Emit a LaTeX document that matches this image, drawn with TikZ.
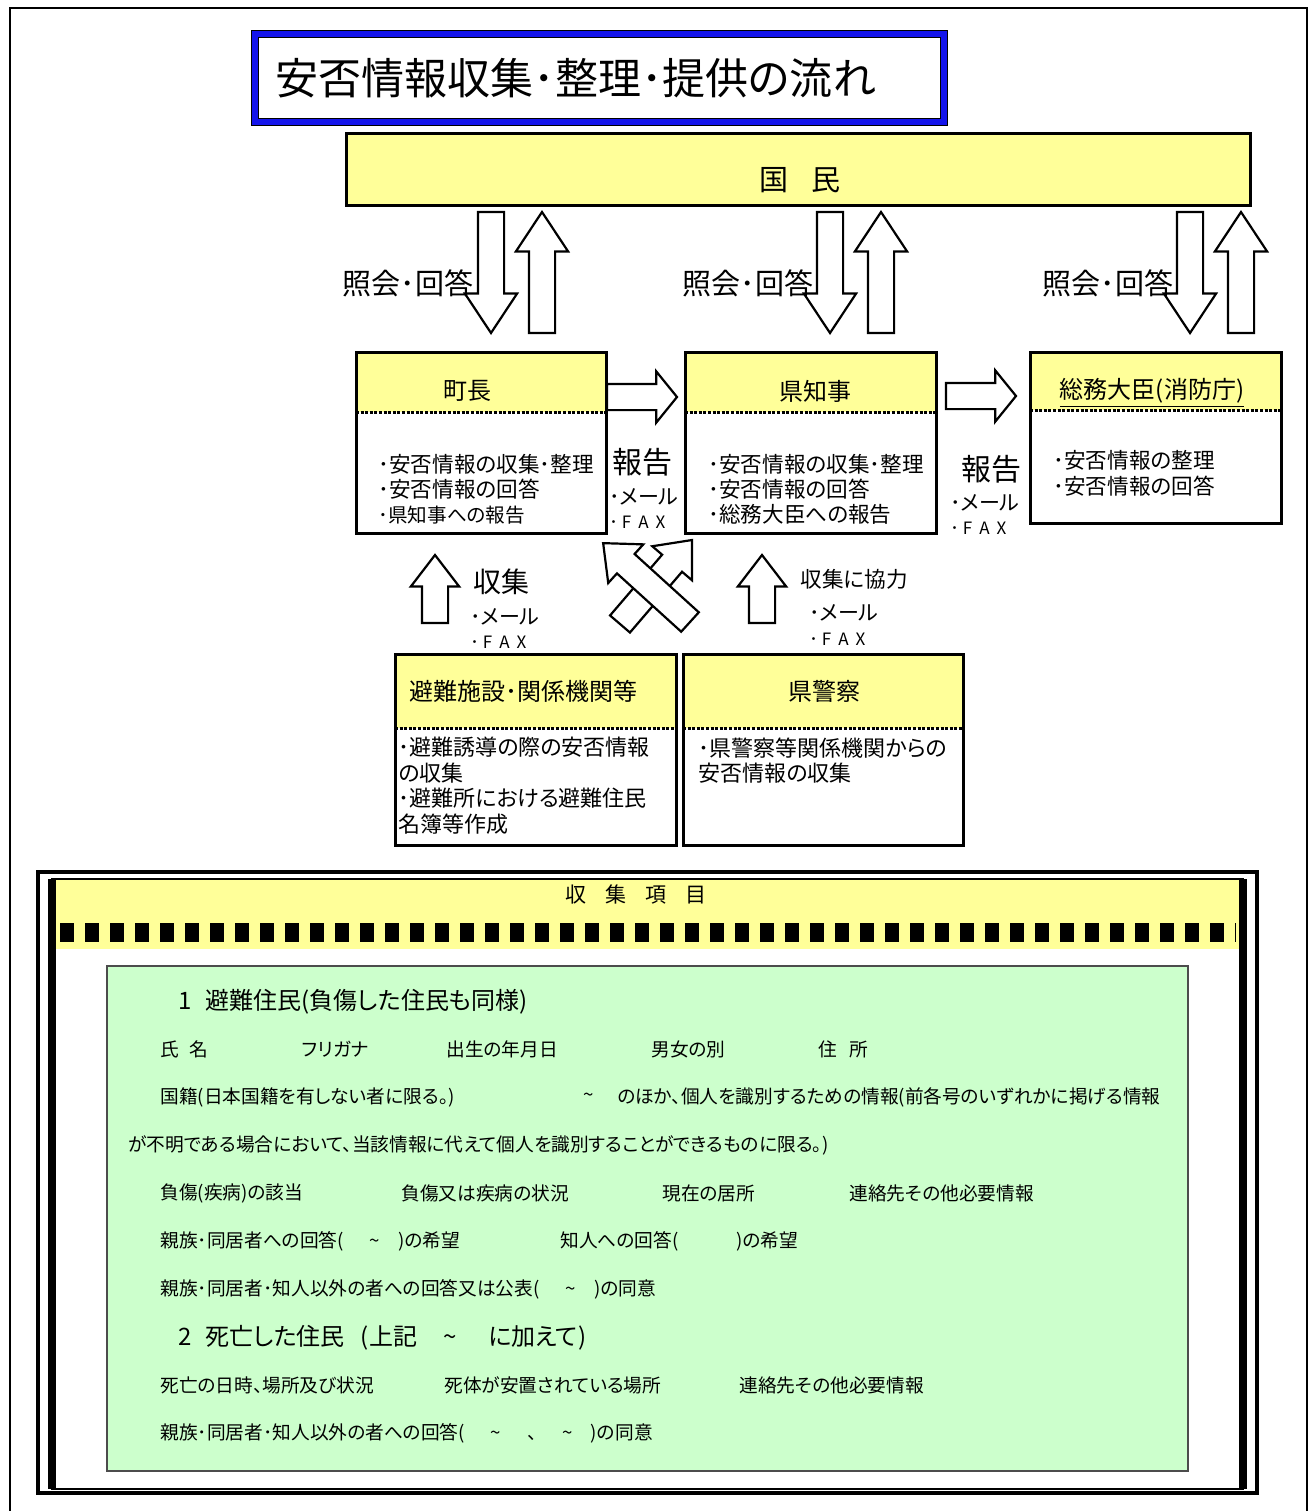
\documentclass[tikz,border=0pt]{standalone}
\usepackage{fontspec}
\setmainfont{Noto Sans CJK JP}[RawFeature=+palt]
\usetikzlibrary{calc,shapes.arrows}

\definecolor{hdryellow}{RGB}{255,255,153}
\definecolor{itemgreen}{RGB}{204,255,204}
\definecolor{titleblue}{RGB}{20,20,235}
\newcommand{\jpsize}[2]{\fontsize{#1}{#2}\selectfont}
\newcommand{\tld}{\textasciitilde}
\newcommand{\fatarrow}[4][]{%
  \path let \p1=($(#4)-(#3)$) in
    node[fat,#1,anchor=tail,rotate={atan2(\y1,\x1)},minimum height={veclen(\x1,\y1)}] (#2) at (#3) {};}

\tikzset{
  box/.style={fill=white, inner sep=0pt, outer sep=0pt},
  frame/.style={draw, line width=1.5pt},
  head/.style={fill=hdryellow},
  dots/.style={line width=1.5pt, dash pattern=on 1.5pt off 0.8pt},
  boxtitle/.style={inner sep=0pt, font=\jpsize{12}{14}},
  boxtext/.style={anchor=north west, inner sep=0pt, align=left, font=\jpsize{10.8}{12.5}},
  lbl/.style={inner sep=0pt},
  item/.style={anchor=west, inner sep=0pt, font=\jpsize{9.35}{11}},
  fat/.style={single arrow, draw, fill=white, line width=1.1pt, inner xsep=0pt, inner ysep=6pt,
    outer sep=0pt, minimum width=25pt, single arrow head extend=6.5pt, single arrow tip angle=67},
  titlebox/.style={draw=black, line width=0.5pt, double=titleblue, double distance=3pt,
    minimum width=344.5pt, minimum height=44pt, text width=324pt, inner xsep=10pt,
    align=left, font=\jpsize{21.5}{24}}
}

\begin{document}
\begin{tikzpicture}[x=0.5pt,y=-0.5pt]
\useasboundingbox (0,0) rectangle (1313,1511);
\draw[line width=1pt] (10,1511) -- (10,8) -- (1307,8) -- (1307,1511);

% title and kokumin
\node[titlebox] (title) at (599.5,78) {安否情報収集･整理･提供の流れ};
\node[box, frame, fill=hdryellow, minimum width=452pt, minimum height=36pt] (kokumin) at (798,169) {};
\node[lbl, font=\jpsize{14.5}{16}] (kokumint) at (800,180) {国\hspace{12pt}民};

% inquiry / answer arrows
\coordinate (d1a) at (491,212); \coordinate (d1b) at (491,333);
\coordinate (u1a) at (542,333); \coordinate (u1b) at (542,212);
\coordinate (d2a) at (830,212); \coordinate (d2b) at (830,333);
\coordinate (u2a) at (881,333); \coordinate (u2b) at (881,212);
\coordinate (d3a) at (1190,212); \coordinate (d3b) at (1190,333);
\coordinate (u3a) at (1241,333); \coordinate (u3b) at (1241,212);
\fatarrow{d1}{d1a}{d1b}
\fatarrow{u1}{u1a}{u1b}
\fatarrow{d2}{d2a}{d2b}
\fatarrow{u2}{u2a}{u2b}
\fatarrow{d3}{d3a}{d3b}
\fatarrow{u3}{u3a}{u3b}
\node[lbl, font=\jpsize{14.5}{16}] (shokai1) at (408,283) {照会･回答};
\node[lbl, font=\jpsize{14.5}{16}] (shokai2) at (748,283) {照会･回答};
\node[lbl, font=\jpsize{14.5}{16}] (shokai3) at (1108,283) {照会･回答};

% chocho
\node[box, minimum width=125pt, minimum height=90.5pt] (chocho) at (481,442.5) {};
\fill[head] (chocho.north west) rectangle ([yshift=-30pt]chocho.north east);
\draw[dots] ([yshift=-30pt]chocho.north west) -- ([yshift=-30pt]chocho.north east);
\draw[frame] (chocho.north west) rectangle (chocho.south east);
\node[boxtitle] (chochot) at (467,391) {町長};
\node[boxtext] (chochob) at (378,454) {･安否情報の収集･整理\\･安否情報の回答\\{\jpsize{9.8}{12.5}･県知事への報告}};

% chiji
\node[box, minimum width=125.5pt, minimum height=90.5pt] (chiji) at (810.5,442.5) {};
\fill[head] (chiji.north west) rectangle ([yshift=-30pt]chiji.north east);
\draw[dots] ([yshift=-30pt]chiji.north west) -- ([yshift=-30pt]chiji.north east);
\draw[frame] (chiji.north west) rectangle (chiji.south east);
\node[boxtitle] (chijit) at (815,391) {県知事};
\node[boxtext] (chijib) at (708,454) {･安否情報の収集･整理\\･安否情報の回答\\･総務大臣への報告};

% somu
\node[box, minimum width=125.5pt, minimum height=85.5pt] (somu) at (1155.5,437.5) {};
\fill[head] (somu.north west) rectangle ([yshift=-29pt]somu.north east);
\draw[dots] ([yshift=-29pt]somu.north west) -- ([yshift=-29pt]somu.north east);
\draw[frame] (somu.north west) rectangle (somu.south east);
\node[boxtitle] (somut) at (1152,393) {\underline{総務大臣(消防庁)}};
\node[boxtext, font=\jpsize{10.8}{13}] (somub) at (1053,450) {･安否情報の整理\\･安否情報の回答};

% report arrows
\coordinate (r1a) at (607,397); \coordinate (r1b) at (677,397);
\coordinate (r2a) at (946,396); \coordinate (r2b) at (1016,396);
\fatarrow[single arrow head extend=6.25pt, single arrow tip angle=102]{r1}{r1a}{r1b}
\fatarrow[single arrow head extend=6.25pt, single arrow tip angle=102]{r2}{r2a}{r2b}
\node[lbl, font=\jpsize{15}{17}] (hokoku1) at (642,462) {報告};
\node[lbl, anchor=west, font=\jpsize{10.5}{12}] (mail1) at (609,497) {･メール};
\node[lbl, anchor=west, font=\jpsize{8.5}{10}] (fax1) at (609,522) {･\hspace{2pt}F\hspace{3.5pt}A\hspace{3.5pt}X};
\node[lbl, font=\jpsize{15}{17}] (hokoku2) at (991,469) {報告};
\node[lbl, anchor=west, font=\jpsize{10.5}{12}] (mail2) at (950,503) {･メール};
\node[lbl, anchor=west, font=\jpsize{8.5}{10}] (fax2) at (950,528) {･\hspace{2pt}F\hspace{3.5pt}A\hspace{3.5pt}X};

% collect arrows
\coordinate (c1a) at (435,623); \coordinate (c1b) at (435,555);
\coordinate (c2a) at (762,623); \coordinate (c2b) at (762,555);
\fatarrow[minimum width=23pt, single arrow head extend=5.5pt, single arrow tip angle=75]{c1}{c1a}{c1b}
\fatarrow[minimum width=23pt, single arrow head extend=5.5pt, single arrow tip angle=75]{c2}{c2a}{c2b}
\coordinate (xba) at (620,624); \coordinate (xbb) at (692,540);
\coordinate (xaa) at (690,622); \coordinate (xab) at (603,543);
\fatarrow[single arrow tip angle=81]{xb}{xba}{xbb}
\fatarrow[single arrow tip angle=81]{xa}{xaa}{xab}
\node[lbl, font=\jpsize{14}{16}] (shushu) at (501,582) {収集};
\node[lbl, anchor=west, font=\jpsize{10.5}{12}] (mail3) at (470,617) {･メール};
\node[lbl, anchor=west, font=\jpsize{8.5}{10}] (fax3) at (470,642) {･\hspace{2pt}F\hspace{3.5pt}A\hspace{3.5pt}X};
\node[lbl, anchor=west, font=\jpsize{10.8}{12}] (kyoryoku) at (800,579) {収集に協力};
\node[lbl, anchor=west, font=\jpsize{10.5}{12}] (mail4) at (809,613) {･メール};
\node[lbl, anchor=west, font=\jpsize{8.5}{10}] (fax4) at (809,639) {･\hspace{2pt}F\hspace{3.5pt}A\hspace{3.5pt}X};

% hinan
\node[box, minimum width=140.5pt, minimum height=95.5pt] (hinan) at (535.5,749.5) {};
\fill[head] (hinan.north west) rectangle ([yshift=-37pt]hinan.north east);
\draw[dots] ([yshift=-37pt]hinan.north west) -- ([yshift=-37pt]hinan.north east);
\draw[frame] (hinan.north west) rectangle (hinan.south east);
\node[boxtitle] (hinant) at (523,691) {避難施設･関係機関等};
\node[boxtext, font=\jpsize{11}{12.7}] (hinanb) at (398,737) {･避難誘導の際の安否情報\\の収集\\･避難所における避難住民\\名簿等作成};

% keisatsu
\node[box, minimum width=140pt, minimum height=95.5pt] (keisatsu) at (823,749.5) {};
\fill[head] (keisatsu.north west) rectangle ([yshift=-37pt]keisatsu.north east);
\draw[dots] ([yshift=-37pt]keisatsu.north west) -- ([yshift=-37pt]keisatsu.north east);
\draw[frame] (keisatsu.north west) rectangle (keisatsu.south east);
\node[boxtitle] (keisatsut) at (824,691) {県警察};
\node[boxtext, font=\jpsize{11}{12.7}] (keisatsub) at (698,737) {･県警察等関係機関からの\\安否情報の収集};

% collected items
\fill[hdryellow] (56,878) rectangle (1243,949);
\draw[line width=9.5pt, dash pattern=on 7pt off 5.5pt] (60,932) -- (1236,932);
\draw[line width=2pt] (38,872) rectangle (1257,1493);
\draw[line width=0.8pt] (52,879) rectangle (1243,1489);
\draw[line width=4pt] (52,879) -- (52,1489) (1243,879) -- (1243,1489);
\node[lbl, font=\jpsize{10.5}{12}] (itemhead) at (636,895) {収\hspace{9.5pt}集\hspace{9.5pt}項\hspace{9.5pt}目};
\node[fill=itemgreen, draw=gray!60!black, line width=0.6pt, inner sep=0pt,
  minimum width=540.5pt, minimum height=252.5pt] (items) at (647.5,1218.5) {};

\node[item, font=\jpsize{12}{14}] (i1) at (178,1002) {1\hspace{7pt}避難住民(負傷した住民も同様)};
\node[item] (i2) at (160,1049) {氏\hspace{5pt}名};
\node[item] (i3) at (302,1049) {フリガナ};
\node[item] (i4) at (446,1049) {出生の年月日};
\node[item] (i5) at (651,1049) {男女の別};
\node[item] (i6) at (818,1049) {住\hspace{6pt}所};
\node[item] (i7) at (160,1097) {国籍(日本国籍を有しない者に限る。)};
\node[item] (i8) at (583,1097) {\tld};
\node[item] (i9) at (617,1097) {のほか、個人を識別するための情報(前各号のいずれかに掲げる情報};
\node[item] (i10) at (128,1145) {が不明である場合において、当該情報に代えて個人を識別することができるものに限る。)};
\node[item] (i11) at (160,1193) {負傷(疾病)の該当};
\node[item] (i12) at (401,1193) {負傷又は疾病の状況};
\node[item] (i13) at (662,1193) {現在の居所};
\node[item] (i14) at (849,1193) {連絡先その他必要情報};
\node[item] (i15) at (160,1241) {親族･同居者への回答(\hspace{13pt}\tld\hspace{9pt})の希望};
\node[item] (i16) at (560,1241) {知人への回答(\hspace{29pt})の希望};
\node[item] (i17) at (160,1289) {親族･同居者･知人以外の者への回答又は公表(\hspace{13pt}\tld\hspace{9pt})の同意};
\node[item, font=\jpsize{12}{14}] (i18) at (178,1338) {2\hspace{7pt}死亡した住民\hspace{8pt}(上記\hspace{13pt}\tld\hspace{16pt}に加えて)};
\node[item] (i19) at (160,1385) {死亡の日時、場所及び状況};
\node[item] (i20) at (444,1385) {死体が安置されている場所};
\node[item] (i21) at (739,1385) {連絡先その他必要情報};
\node[item] (i22) at (160,1433) {親族･同居者･知人以外の者への回答(\hspace{13pt}\tld\hspace{13pt}、\hspace{13pt}\tld\hspace{9pt})の同意};
\end{tikzpicture}
\end{document}
